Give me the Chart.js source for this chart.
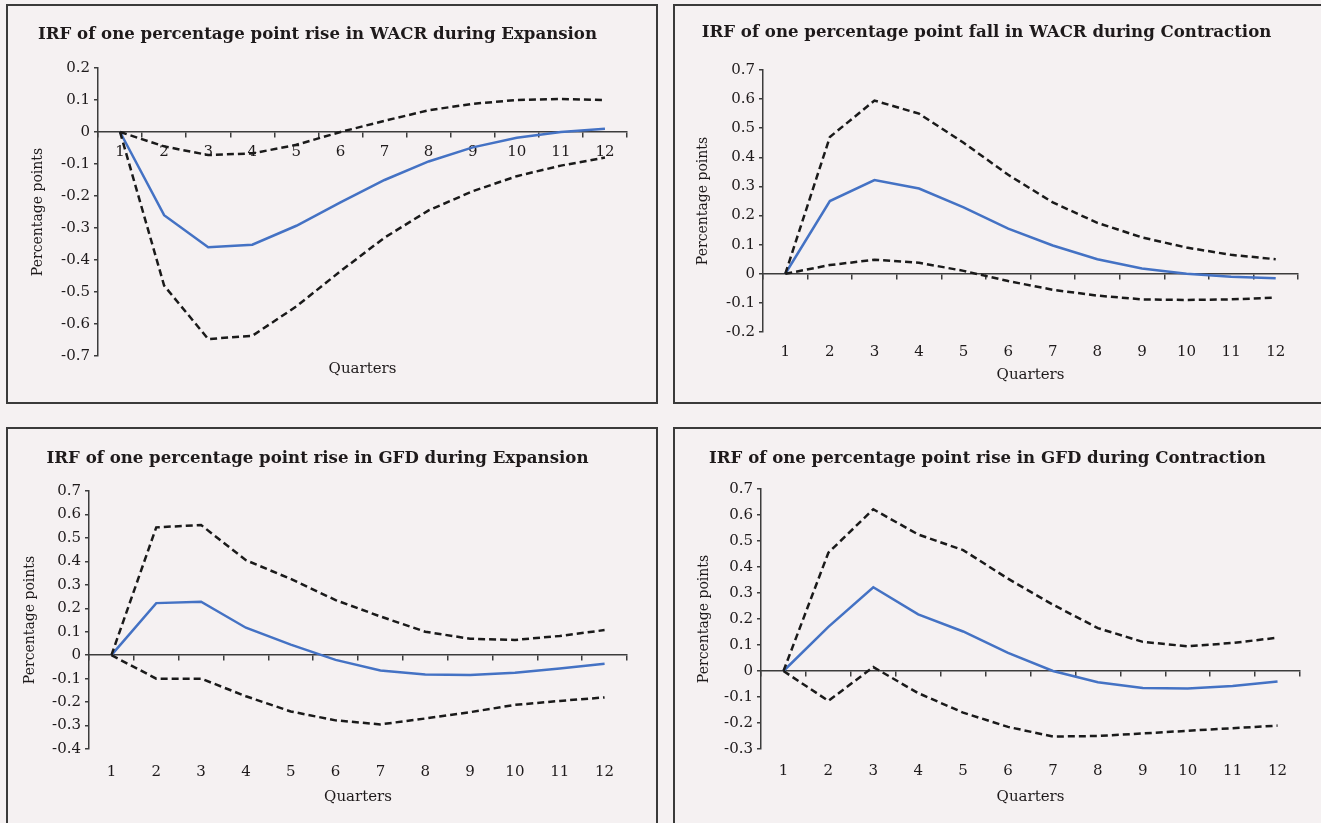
<!DOCTYPE html>
<html lang="en">
<head>
<meta charset="UTF-8"/>
<script src="https://cdn.jsdelivr.net/npm/chart.js"></script>
<style>
    html, body { margin: 0; padding: 0; background: #f5f1f2; width: 1321px; height: 823px; overflow: hidden; }
    .panel { position: absolute; box-sizing: border-box; border: 2px solid #3a3a3a; background: #f5f1f2; }
    .panel canvas { position: absolute; left: 0; top: 0; }
</style>
</head>
<body>
<div class="panel" style="left:6px;top:4px;width:652px;height:400px;"><canvas id="wacrExp" width="648" height="396"></canvas></div>
<div class="panel" style="left:673px;top:4px;width:700px;height:400px;"><canvas id="wacrCon" width="646" height="396"></canvas></div>
<div class="panel" style="left:6px;top:427px;width:652px;height:420px;"><canvas id="gfdExp" width="648" height="394"></canvas></div>
<div class="panel" style="left:673px;top:427px;width:700px;height:420px;"><canvas id="gfdCon" width="646" height="394"></canvas></div>
<script>
const quarters = ['1', '2', '3', '4', '5', '6', '7', '8', '9', '10', '11', '12'];

// WACR rise during expansion
const wacrExpIrf = [0, -0.26, -0.36, -0.352, -0.293, -0.22, -0.15, -0.092, -0.048, -0.018, 0.0, 0.01];
const wacrExpUpper = [0, -0.045, -0.072, -0.067, -0.04, 0.0, 0.035, 0.068, 0.088, 0.1, 0.103, 0.1];
const wacrExpLower = [0, -0.48, -0.647, -0.637, -0.545, -0.435, -0.33, -0.245, -0.185, -0.138, -0.105, -0.08];

// WACR fall during contraction
const wacrConIrf = [0, 0.25, 0.322, 0.293, 0.228, 0.155, 0.097, 0.05, 0.018, 0.0, -0.01, -0.015];
const wacrConUpper = [0, 0.47, 0.595, 0.55, 0.45, 0.34, 0.245, 0.175, 0.125, 0.09, 0.065, 0.05];
const wacrConLower = [0, 0.03, 0.048, 0.038, 0.01, -0.025, -0.055, -0.075, -0.088, -0.09, -0.088, -0.082];

// GFD rise during expansion
const gfdExpIrf = [0, 0.222, 0.228, 0.117, 0.045, -0.02, -0.065, -0.082, -0.085, -0.075, -0.057, -0.037];
const gfdExpUpper = [0, 0.545, 0.555, 0.405, 0.325, 0.235, 0.165, 0.1, 0.07, 0.065, 0.082, 0.107];
const gfdExpLower = [0, -0.1, -0.1, -0.175, -0.24, -0.278, -0.295, -0.27, -0.243, -0.212, -0.195, -0.18];

// GFD rise during contraction
const gfdConIrf = [0, 0.17, 0.322, 0.218, 0.152, 0.07, 0.0, -0.043, -0.065, -0.067, -0.058, -0.04];
const gfdConUpper = [0, 0.455, 0.622, 0.525, 0.465, 0.355, 0.255, 0.165, 0.112, 0.095, 0.108, 0.128];
const gfdConLower = [0, -0.115, 0.015, -0.085, -0.16, -0.215, -0.252, -0.25, -0.24, -0.23, -0.22, -0.21];

const titles = [
    'IRF of one percentage point rise in WACR during Expansion',
    'IRF of one percentage point fall in WACR during Contraction',
    'IRF of one percentage point rise in GFD during Expansion',
    'IRF of one percentage point rise in GFD during Contraction'
];
const yMins = [-0.7, -0.2, -0.4, -0.3];
const yMaxs = [0.2, 0.7, 0.7, 0.7];

const SERIF = "'DejaVu Serif', 'Liberation Serif', serif";
const INK = '#1e1a1b';
const AXIS = '#3c3c3c';
const BLUE = '#4472c4';

// geometry is in canvas pixels: chart area box, title / axis-title centres
function makeChart(id, title, irf, upper, lower, yMin, yMax, g) {
    const canvas = document.getElementById(id);
    const W = canvas.width, H = canvas.height;
    const titleSize = 16.6, titleLh = titleSize * 1.2;
    const tickSize = 15, tickLh = tickSize * 1.2;
    const yTitleSize = 14, yTitleLh = yTitleSize * 1.2;
    const tTop = g.titleY - titleLh / 2;
    const tBottom = g.top - titleLh - tTop;
    const xHeight = H - g.bottom;

    const line = (data, dashed) => ({
        data,
        borderColor: dashed ? '#1a1a1a' : BLUE,
        borderWidth: 2.5,
        borderDash: dashed ? [7, 4] : [],
        pointRadius: 0,
        tension: 0,
        fill: false
    });

    return new Chart(canvas, {
        type: 'line',
        data: {
            labels: quarters,
            datasets: [line(upper, true), line(lower, true), line(irf, false)]
        },
        options: {
            responsive: false,
            animation: false,
            devicePixelRatio: 1,
            layout: {padding: {left: 0, top: 0, bottom: 0, right: W - g.right}},
            plugins: {
                legend: {display: false},
                tooltip: {enabled: false},
                title: {
                    display: true,
                    text: title,
                    color: INK,
                    font: {family: SERIF, size: titleSize, weight: 'bold'},
                    padding: {top: tTop, bottom: tBottom}
                }
            },
            scales: {
                x: {
                    type: 'category',
                    position: 'bottom',
                    offset: true,
                    grid: {display: false, drawTicks: false},
                    border: {display: false},
                    ticks: {
                        display: !g.labelsOnZero,
                        color: INK,
                        font: {family: SERIF, size: tickSize},
                        padding: g.labelY - g.bottom - tickLh / 2,
                        maxRotation: 0,
                        autoSkip: false
                    },
                    title: {
                        display: true,
                        text: 'Quarters',
                        color: INK,
                        font: {family: SERIF, size: 15},
                        padding: {top: 0, bottom: H - g.quartersY - 9}
                    },
                    afterFit: (s) => { s.height = xHeight; }
                },
                x0: {
                    type: 'category',
                    axis: 'x',
                    position: {y: 0},
                    offset: true,
                    grid: {display: true, drawOnChartArea: false, drawTicks: true, tickLength: 5, offset: true, color: AXIS, lineWidth: 1.5},
                    border: {display: true, color: AXIS, width: 1.5},
                    ticks: {
                        display: !!g.labelsOnZero,
                        color: INK,
                        font: {family: SERIF, size: tickSize},
                        padding: 6,
                        maxRotation: 0,
                        autoSkip: false
                    }
                },
                y: {
                    min: yMin,
                    max: yMax,
                    grid: {display: true, drawOnChartArea: false, drawTicks: true, tickLength: 4, color: AXIS, lineWidth: 1.5},
                    border: {display: true, color: AXIS, width: 1.5},
                    ticks: {
                        stepSize: 0.1,
                        color: INK,
                        padding: 4,
                        font: {family: SERIF, size: tickSize},
                        callback: (v) => Math.abs(v) < 1e-9 ? '0' : Number(v).toFixed(1)
                    },
                    title: {
                        display: true,
                        text: 'Percentage points',
                        color: INK,
                        font: {family: SERIF, size: yTitleSize},
                        padding: {top: g.pctX - yTitleLh / 2, bottom: 0}
                    },
                    afterFit: (s) => { s.width = g.left; }
                }
            }
        }
    });
}

// canvas origins: (8,6), (675,6), (8,429), (675,429)
makeChart('wacrExp', titles[0], wacrExpIrf, wacrExpUpper, wacrExpLower, yMins[0], yMaxs[0],
    {left: 90, right: 619, top: 62, bottom: 350, titleY: 29, quartersY: 363, pctX: 30, labelsOnZero: true, labelY: 0});
makeChart('wacrCon', titles[1], wacrConIrf, wacrConUpper, wacrConLower, yMins[1], yMaxs[1],
    {left: 88, right: 623, top: 64, bottom: 326, titleY: 27, quartersY: 369, pctX: 28, labelY: 346});
makeChart('gfdExp', titles[2], gfdExpIrf, gfdExpUpper, gfdExpLower, yMins[2], yMaxs[2],
    {left: 81, right: 619, top: 62, bottom: 320, titleY: 30, quartersY: 368, pctX: 22, labelY: 343});
makeChart('gfdCon', titles[3], gfdConIrf, gfdConUpper, gfdConLower, yMins[3], yMaxs[3],
    {left: 86, right: 625, top: 60, bottom: 320, titleY: 30, quartersY: 368, pctX: 29, labelY: 342});
</script>
</body>
</html>
